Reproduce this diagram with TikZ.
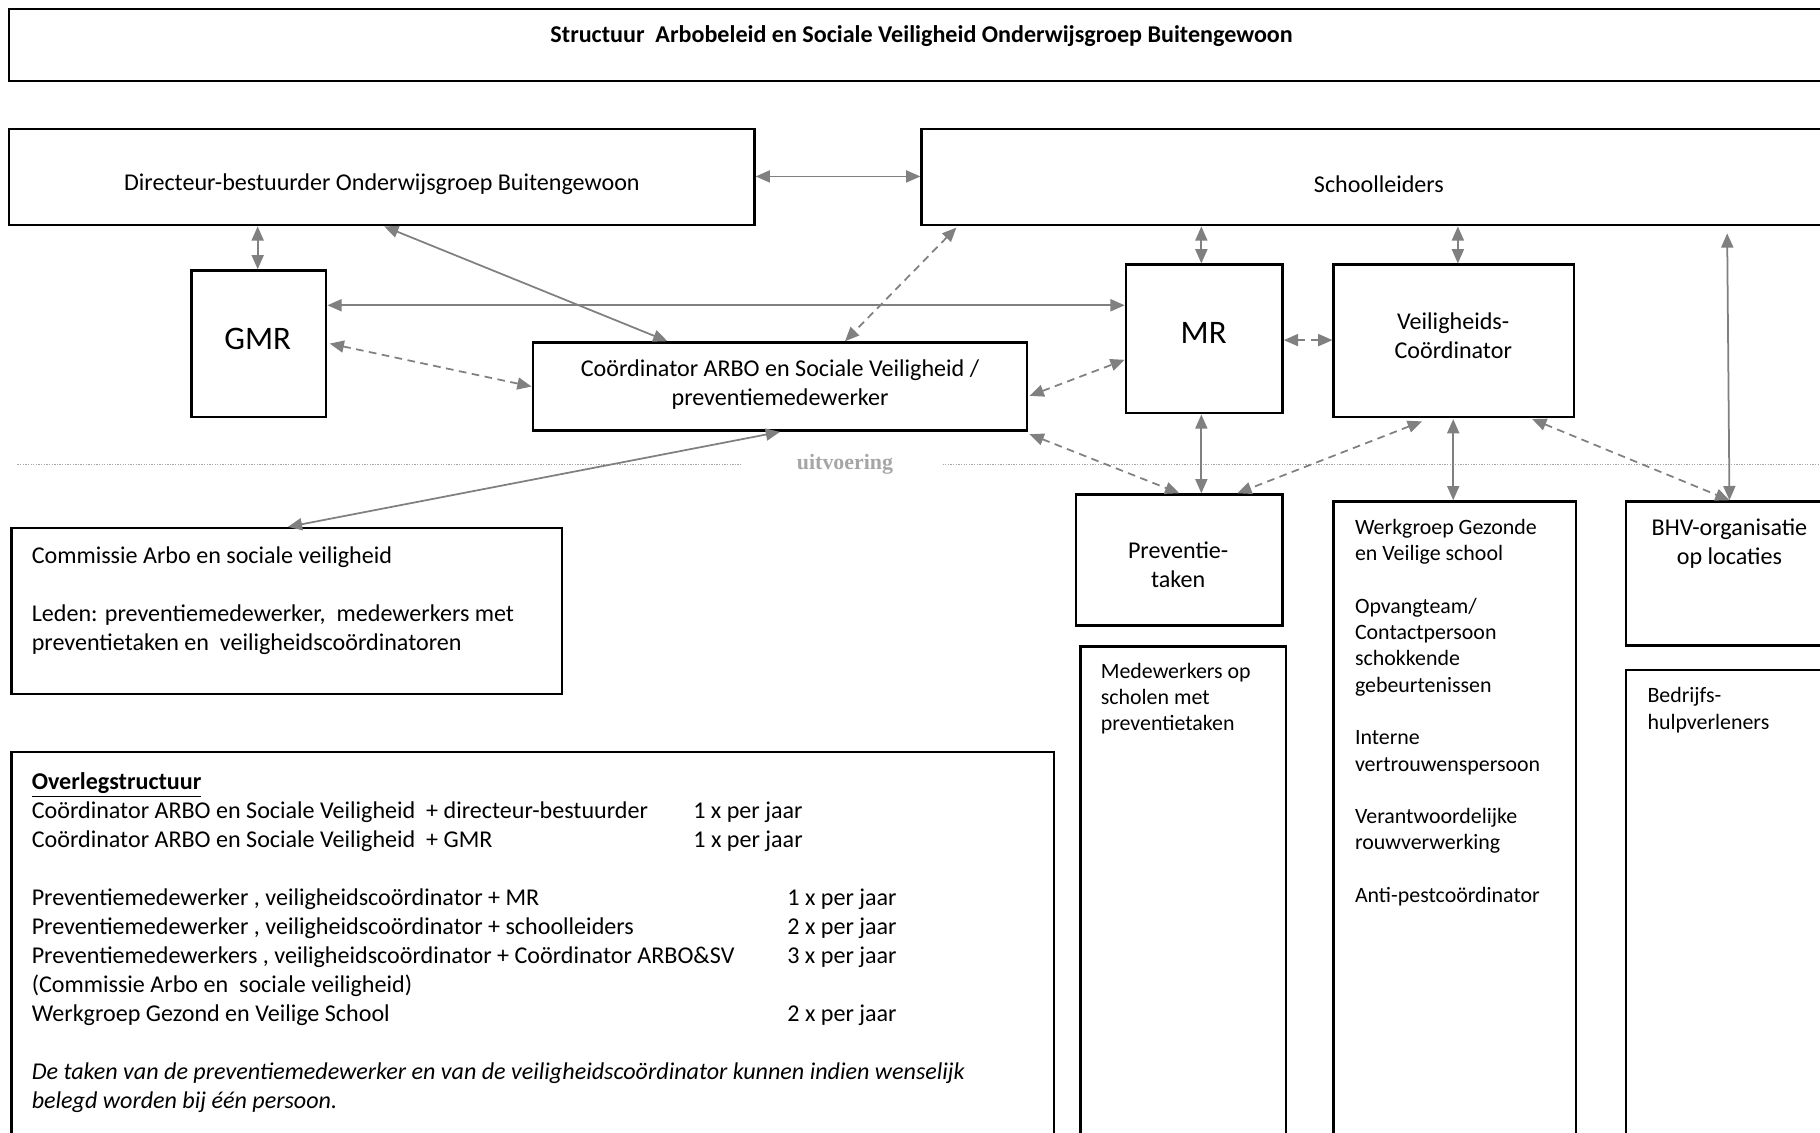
\documentclass[tikz,border=0pt]{standalone}
\usepackage{fontspec}
\setmainfont{Carlito}
\newfontfamily\serifbold{Liberation Serif}
\usetikzlibrary{arrows.meta,fit,calc}
\definecolor{arrgray}{HTML}{808080}
\definecolor{dotgray}{HTML}{A6A6A6}
\begin{document}
\begin{tikzpicture}[x=0.53pt,y=-0.53pt,
 box/.style={draw=black,line width=1.1pt,inner sep=0pt},
 arr/.style={draw=arrgray,line width=0.8pt,{Triangle[length=6.5pt,width=5.5pt]}-{Triangle[length=6.5pt,width=5.5pt]}},
 dsh/.style={arr,dash pattern=on 3.5pt off 2.5pt},
 txt/.style={inner sep=0pt,font=\fontsize{11}{13.25}\selectfont,align=center},
 ltxt/.style={inner sep=0pt,font=\fontsize{11}{13.25}\selectfont,align=left,anchor=north west},
 stxt/.style={inner sep=0pt,font=\fontsize{10}{12}\selectfont,align=left,anchor=north west},
 big/.style={inner sep=0pt,font=\fontsize{15}{18}\selectfont},
 dotline/.style={draw=dotgray,line width=0.6pt,dash pattern=on 0.6pt off 0.6pt}]
\useasboundingbox (0,0) rectangle (1568,976);
\clip (0,0) rectangle (1568,976);
% boxes
\node[box,fit={(8,8) (1600,70)}] (title) {};
\node[box,fit={(8,111) (650,194)}] (dir) {};
\node[box,fit={(794,111) (1582,194)}] (sl) {};
\node[box,fit={(165,233) (281,359)}] (gmr) {};
\node[box,fit={(459,295) (885,371)}] (coord) {};
\node[box,fit={(970,228) (1105,356)}] (mr) {};
\node[box,fit={(1149,228) (1356,359)}] (vc) {};
\node[box,fit={(927,426) (1105,539)}] (prev) {};
\node[box,fit={(1149,432) (1358,1000)}] (wg) {};
\node[box,fit={(1401,432) (1579,556)}] (bhv) {};
\node[box,fit={(1401,577) (1579,1000)}] (bedr) {};
\node[box,fit={(931,557) (1108,1000)}] (mdw) {};
\node[box,fit={(10,455) (484,598)}] (com) {};
\node[box,fit={(10,648) (908,1000)}] (ovl) {};
% centred texts
\node[txt,font=\bfseries\fontsize{11}{13}\selectfont] (titletext) at (794,31) {Structuur~ Arbobeleid en Sociale Veiligheid Onderwijsgroep Buitengewoon};
\node[txt] (dirtext) at (329,159) {Directeur-bestuurder Onderwijsgroep Buitengewoon};
\node[txt] (sltext) at (1188,159) {Schoolleiders};
\node[big] (gmrtext) at (222,292) {GMR};
\node[txt] (coordtext) at (672,331) {Coördinator ARBO en Sociale Veiligheid /\\preventiemedewerker};
\node[big] (mrtext) at (1037,287) {MR};
\node[txt] (vctext) at (1252,289) {Veiligheids-\\Coördinator};
\node[txt] (prevtext) at (1015,486.5) {Preventie-\\taken};
\node[txt] (bhvtext) at (1490,468.5) {BHV-organisatie\\op locaties};
% left aligned texts
\node[stxt] (wgtext) at (1167,447) {Werkgroep Gezonde\\en Veilige school\\[12pt]Opvangteam/\\Contactpersoon\\schokkende\\gebeurtenissen\\[12pt]Interne\\vertrouwenspersoon\\[12pt]Verantwoordelijke\\rouwverwerking\\[12pt]Anti-pestcoördinator};
\node[stxt] (mdwtext) at (948,571) {Medewerkers op\\scholen met\\preventietaken};
\node[stxt] (bedrtext) at (1419,592) {Bedrijfs-\\hulpverleners};
\node[ltxt] (comtext) at (27,471) {Commissie Arbo en sociale veiligheid\\[13.25pt]Leden: preventiemedewerker,~ medewerkers met\\preventietaken en~ veiligheidscoördinatoren};
\node[ltxt] (ovltext) at (27,665) {\underline{\textbf{Overlegstructuur}}\\
\makebox[302.1pt][l]{Coördinator ARBO en Sociale Veiligheid~ + directeur-bestuurder}1 x per jaar\\
\makebox[302.1pt][l]{Coördinator ARBO en Sociale Veiligheid~ + GMR}1 x per jaar\\[13.25pt]
\makebox[345pt][l]{Preventiemedewerker , veiligheidscoördinator + MR}1 x per jaar\\
\makebox[345pt][l]{Preventiemedewerker , veiligheidscoördinator + schoolleiders}2 x per jaar\\
\makebox[345pt][l]{Preventiemedewerkers , veiligheidscoördinator + Coördinator ARBO\&SV}3 x per jaar\\
(Commissie Arbo en~ sociale veiligheid)\\
\makebox[345pt][l]{Werkgroep Gezond en Veilige School}2 x per jaar\\[13.25pt]
\textit{De taken van de preventiemedewerker en van de veiligheidscoördinator kunnen indien wenselijk}\\
\textit{belegd worden bij één persoon.}};
% uitvoering line
\node[inner sep=0pt,text=dotgray,font=\serifbold\bfseries\fontsize{10}{12}\selectfont] (uitv) at (728,400) {uitvoering};
\draw[dotline] (15,400) -- (638,400);
\draw[dotline] (812,400) -- (1600,400);
% connectors
\draw[arr] (dir.east |- 0,152) -- (sl.west |- 0,152);
\draw[arr] (222,0 |- dir.south) -- (222,0 |- gmr.north);
\draw[arr] (331,0 |- dir.south) -- (575,0 |- coord.north);
\draw[dsh] ($(824,0 |- sl.south)+(0,1)$) -- (728,0 |- coord.north);
\draw[arr] (gmr.east |- 0,263) -- (mr.west |- 0,263);
\draw[dsh] ($(gmr.east |- 0,296)+(2,0)$) -- (coord.west |- 0,333);
\draw[dsh] ($(coord.east |- 0,341)+(1,0)$) -- (mr.west |- 0,310);
\draw[dsh] (mr.east |- 0,293) -- (vc.west |- 0,293);
\draw[arr] (1035,0 |- sl.south) -- (1035,0 |- mr.north);
\draw[arr] (1256,0 |- sl.south) -- (1256,0 |- vc.north);
\draw[arr] ($(1488,0 |- sl.south)+(0,6)$) -- (1490,0 |- bhv.north);
\draw[dsh] ($(coord.south east)+(1,2)$) -- (1016,0 |- prev.north);
\draw[arr] (1035,0 |- mr.south) -- (1035,0 |- prev.north);
\draw[dsh] ($(1225,0 |- vc.south)+(0,3)$) -- (1066,0 |- prev.north);
\draw[arr] ($(1252,0 |- vc.south)+(0,1)$) -- (1252,0 |- wg.north);
\draw[dsh] ($(1320,0 |- vc.south)+(0,1)$) -- (1490,0 |- bhv.north);
\draw[arr] (672,0 |- coord.south) -- (248,0 |- com.north);
\end{tikzpicture}
\end{document}
